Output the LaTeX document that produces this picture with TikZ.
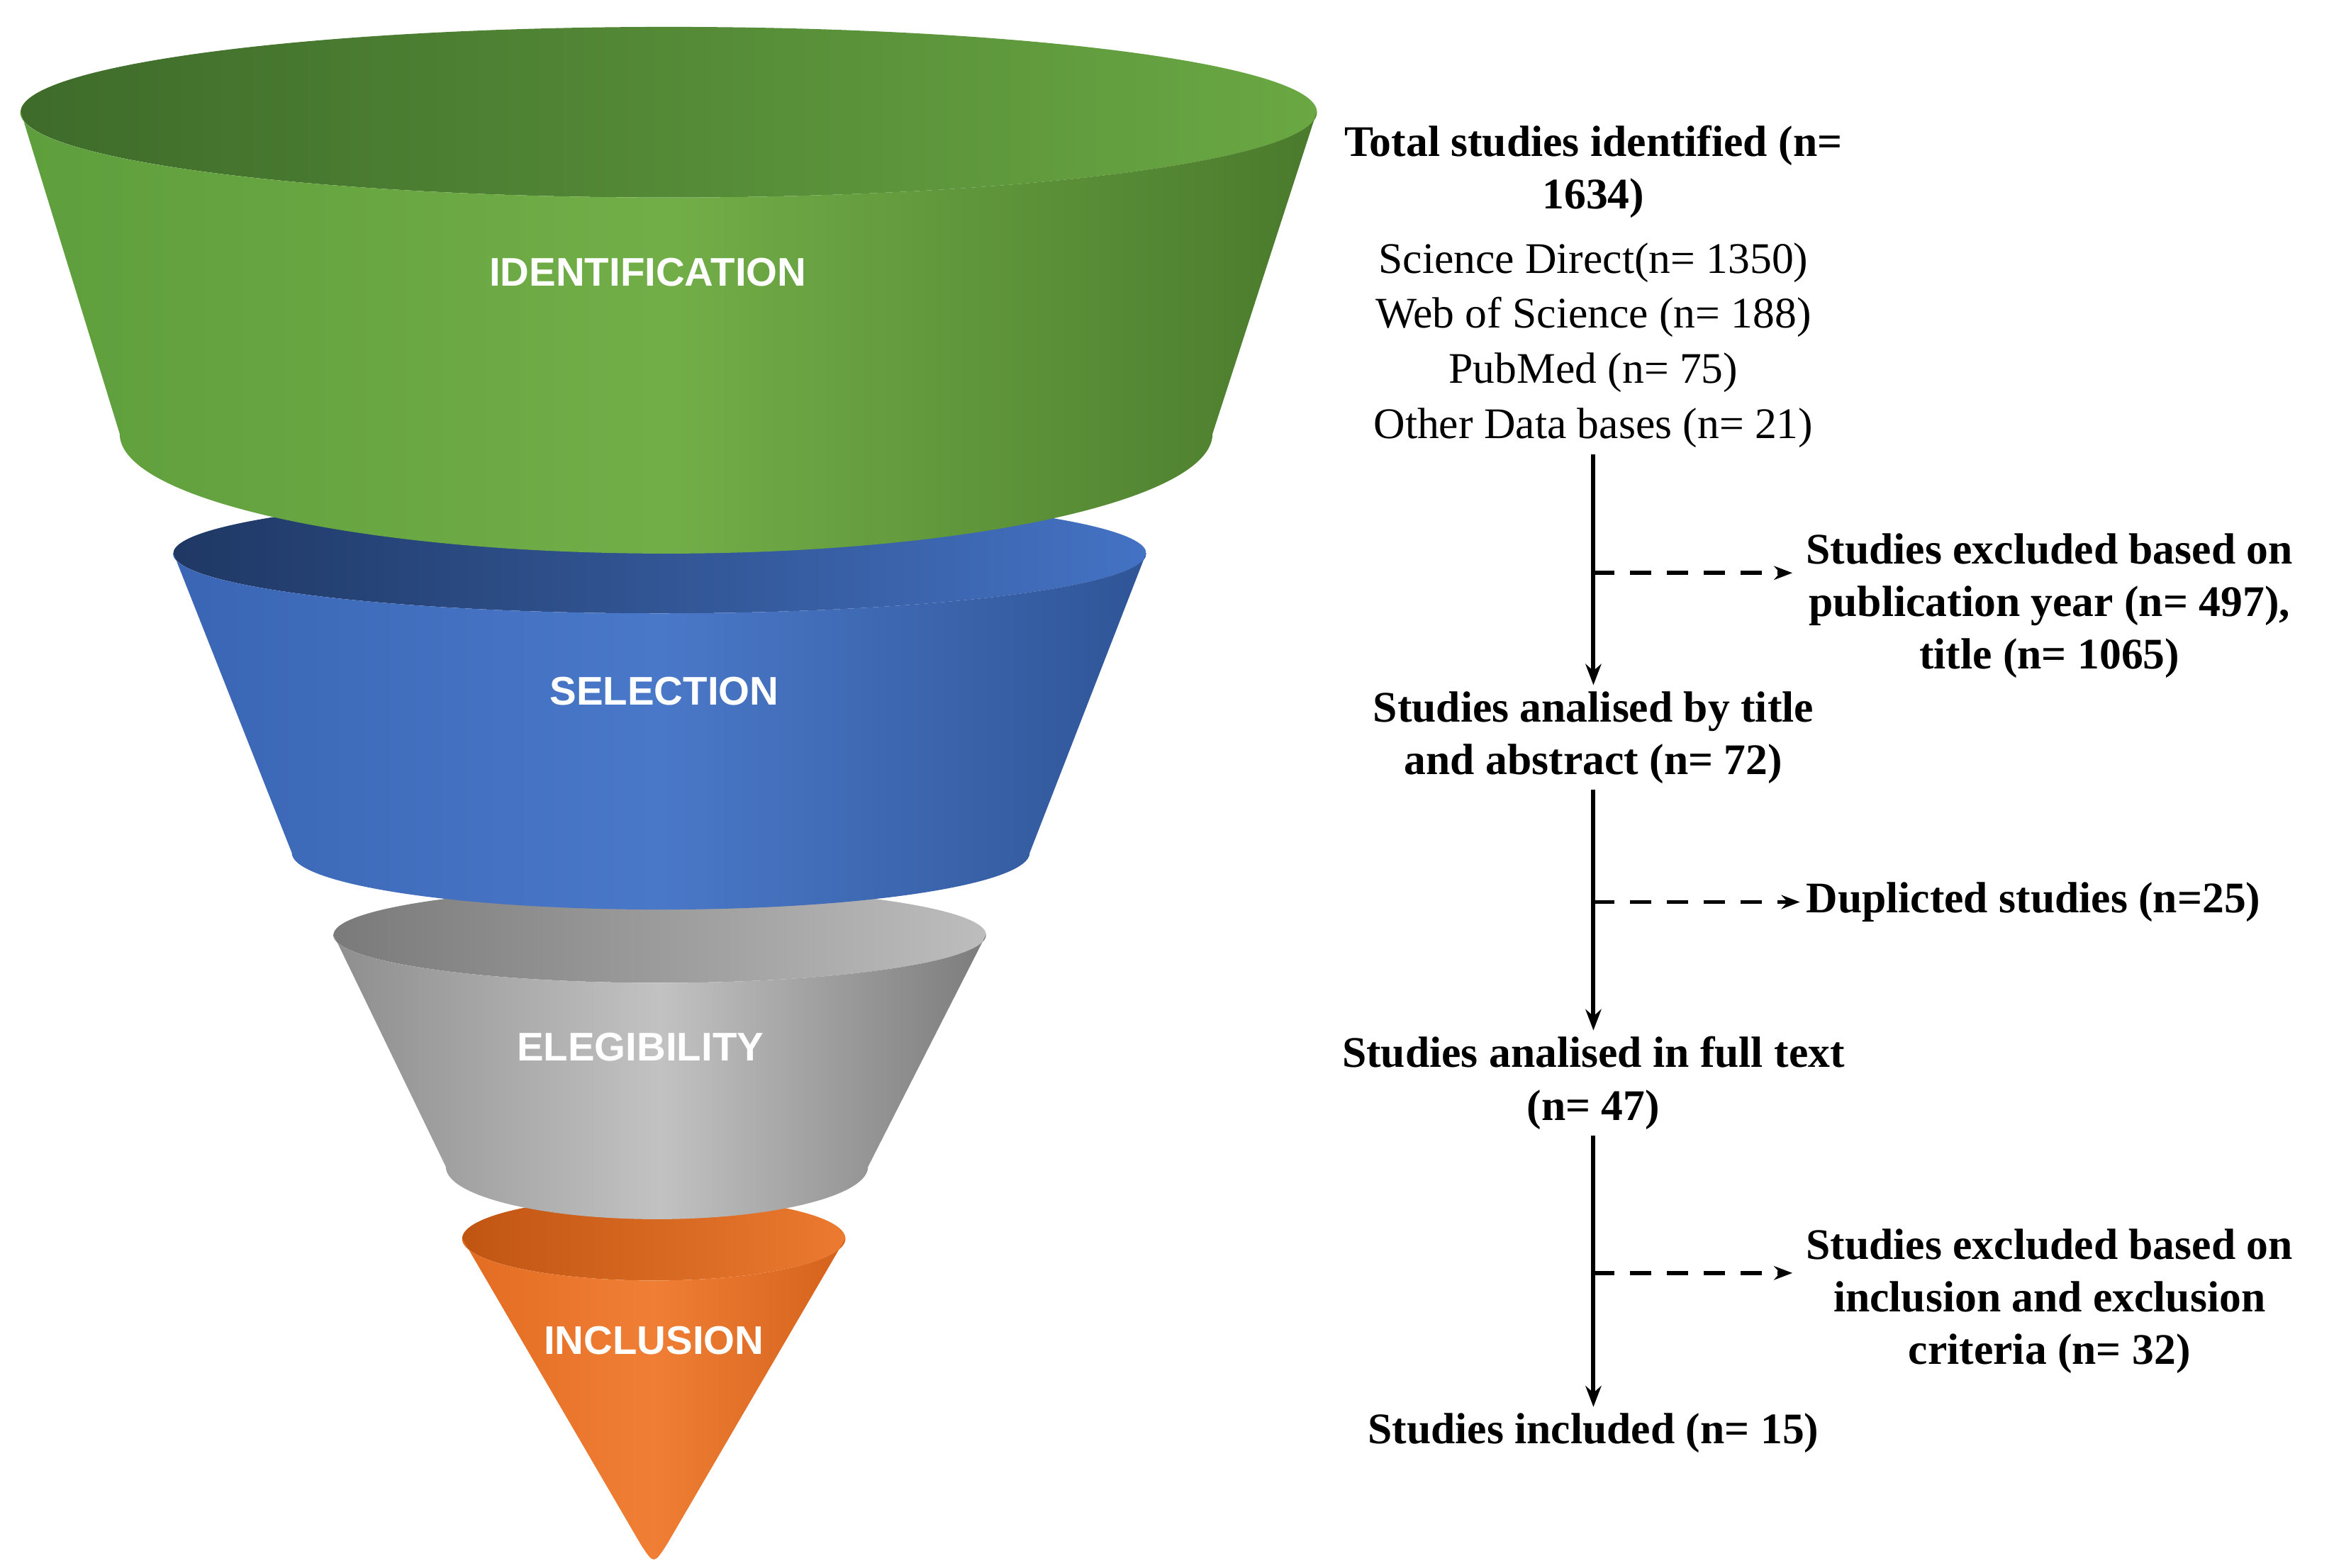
\documentclass[tikz,border=0pt]{standalone}
\usepackage{fontspec}
\setmainfont{Liberation Serif}
\newfontfamily\lab{Liberation Sans}
\usetikzlibrary{arrows.meta}
\definecolor{gA}{HTML}{3E6B2A}\definecolor{gB}{HTML}{6AA843}\definecolor{gC}{HTML}{5E9E3C}\definecolor{gD}{HTML}{72AE48}\definecolor{gE}{HTML}{4A7A2C}
\definecolor{bA}{HTML}{1F3864}\definecolor{bB}{HTML}{4472C4}\definecolor{bC}{HTML}{3A65B5}\definecolor{bD}{HTML}{4A78C8}\definecolor{bE}{HTML}{2F5597}
\definecolor{sA}{HTML}{7A7A7A}\definecolor{sB}{HTML}{BDBDBD}\definecolor{sC}{HTML}{8E8E8E}\definecolor{sD}{HTML}{C2C2C2}\definecolor{sE}{HTML}{7C7C7C}
\definecolor{oA}{HTML}{C05512}\definecolor{oB}{HTML}{EC7A30}\definecolor{oC}{HTML}{E26C22}\definecolor{oD}{HTML}{F07F35}\definecolor{oE}{HTML}{D4621C}
\begin{document}
\begin{tikzpicture}[x=0.01cm,y=-0.01cm,
  stage/.style={text=white,font=\lab\bfseries\fontsize{7.6}{8}\selectfont},
  txt/.style={align=center,font=\fontsize{8.3}{10}\selectfont,inner sep=1pt},
  btxt/.style={txt,font=\bfseries\fontsize{8.3}{10}\selectfont},
  arr/.style={-{Stealth[length=4pt]},thick},
  darr/.style={-{Stealth[length=3.5pt]},thick,dash pattern=on 4pt off 3pt}]
\useasboundingbox (0,0) rectangle (1560,1048);
% Inclusion
\shade[left color=oA,right color=oB] (437,828) ellipse [x radius=1.28cm,y radius=0.28cm];
\path[left color=oC,right color=oE,middle color=oD]
  (309,828) -- (428,1032) .. controls (437,1046) .. (446,1032) -- (565,828) arc[start angle=0,end angle=-180,x radius=1.28cm,y radius=0.28cm] -- cycle;
% Elegibility
\shade[left color=sA,right color=sB] (441,625) ellipse [x radius=2.18cm,y radius=0.32cm];
\path[left color=sC,right color=sE,middle color=sD]
  (223,625) -- (298,780) arc[start angle=180,end angle=360,x radius=1.41cm,y radius=0.35cm] -- (659,625) arc[start angle=0,end angle=-180,x radius=2.18cm,y radius=0.32cm] -- cycle;
% Selection
\shade[left color=bA,right color=bB] (441,370) ellipse [x radius=3.25cm,y radius=0.40cm];
\path[left color=bC,right color=bE,middle color=bD]
  (116,370) -- (195,570) arc[start angle=180,end angle=360,x radius=2.465cm,y radius=0.38cm] -- (766,370) arc[start angle=0,end angle=-180,x radius=3.25cm,y radius=0.40cm] -- cycle;
% Identification
\shade[left color=gA,right color=gB] (447,75) ellipse [x radius=4.33cm,y radius=0.57cm];
\path[left color=gC,right color=gE,middle color=gD]
  (14,75) -- (80,290) arc[start angle=180,end angle=360,x radius=3.65cm,y radius=0.80cm] -- (880,75) arc[start angle=0,end angle=-180,x radius=4.33cm,y radius=0.57cm] -- cycle;
\node[stage] (id) at (433,182) {IDENTIFICATION};
\node[stage] (sel) at (444,462) {SELECTION};
\node[stage] (eli) at (428,700) {ELEGIBILITY};
\node[stage] (inc) at (437,896) {INCLUSION};
% Right flow
\node[btxt] (t1) at (1065,115) {Total studies identified (n=\\1634)};
\node[txt,anchor=north] (t2) at (1065,158) {Science Direct(n= 1350)\\[0.5pt]Web of Science (n= 188)\\[0.5pt]PubMed (n= 75)\\[0.5pt]Other Data bases (n= 21)};
\node[btxt] (s1) at (1065,493) {Studies analised by title\\and abstract (n= 72)};
\node[btxt] (s2) at (1065,724) {Studies analised in full text\\(n= 47)};
\node[btxt] (s3) at (1065,958) {Studies included (n= 15)};
\node[btxt,anchor=west] (e1) at (1203,405) {Studies excluded based on\\publication year (n= 497),\\title (n= 1065)};
\node[btxt,anchor=west] (e2) at (1203,603) {Duplicted studies (n=25)};
\node[btxt,anchor=west] (e3) at (1203,870) {Studies excluded based on\\inclusion and exclusion\\criteria (n= 32)};
\draw[arr] (t2.south) -- (s1.north);
\draw[arr] (s1.south) -- (s2.north);
\draw[arr] (s2.south) -- (s3.north);
\coordinate (d1) at (1065,383); \coordinate (d2) at (1065,603); \coordinate (d3) at (1065,851);
\draw[darr] (d1) -- (1198,383);
\draw[darr] (d2) -- (e2.west);
\draw[darr] (d3) -- (1198,851);
\end{tikzpicture}
\end{document}
